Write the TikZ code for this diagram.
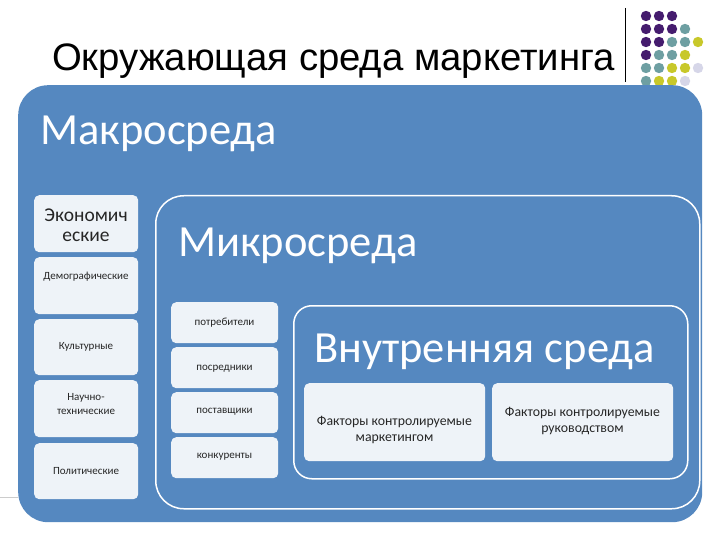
\documentclass[tikz,border=0pt]{standalone}
\usepackage{fontspec}
\setmainfont{Carlito}
\newfontfamily\titlefont{Liberation Sans}
\definecolor{mblue}{HTML}{5588C0}
\definecolor{boxfill}{HTML}{EEF3F8}
\definecolor{dpurple}{HTML}{451C6E}
\definecolor{dteal}{HTML}{6E9FA2}
\definecolor{dyellow}{HTML}{C8C82A}
\definecolor{dlav}{HTML}{D6D6E8}
\tikzset{
  outerbox/.style={draw=none, fill=mblue, rounded corners=30pt, anchor=north west, inner sep=0pt},
  framebox/.style={draw=white, line width=1.5pt, fill=none, anchor=north west, inner sep=0pt},
  itembox/.style={draw=none, fill=boxfill, rounded corners=5pt, anchor=north west, inner sep=0pt},
  bigtitle/.style={font=\fontsize{44.5}{46}\selectfont, text=white, anchor=base west, inner sep=0pt},
  itemtxt/.style={font=\fontsize{11}{13.5}\selectfont, text=black!85, align=center, inner sep=0pt},
  facttxt/.style={font=\fontsize{13.8}{15.5}\selectfont, text=black!85, align=center, inner sep=0pt},
}
\begin{document}
\begin{tikzpicture}[x=1pt,y=-1pt]
\useasboundingbox (0,0) rectangle (720,540);
\fill[white] (0,0) rectangle (720,540);
% title
\node[font=\titlefont\fontsize{38.3}{40}\selectfont, anchor=base west, inner sep=0pt] (title) at (52,71) {Окружающая среда маркетинга};
\draw[black, line width=1pt] (625,8) -- (625,82);
% dots
\foreach \c/\x/\y in {dpurple/646/16, dpurple/659/16, dpurple/672/16,
  dpurple/646/29, dpurple/659/29, dpurple/672/29, dteal/685/29,
  dpurple/646/42, dpurple/659/42, dteal/672/42, dteal/685/42, dyellow/698/42,
  dpurple/646/55, dteal/659/55, dteal/672/55, dyellow/685/55,
  dteal/646/68, dteal/659/68, dyellow/672/68, dyellow/685/68, dlav/698/68,
  dteal/646/81, dyellow/659/81, dyellow/672/81, dlav/685/81}
  \fill[\c] (\x,\y) circle (5.2);
% grey slide line
\draw[black!20, line width=1pt] (0,497) -- (18,497);
% macro
\node[outerbox, minimum width=684pt, minimum height=437pt] (macro) at (18,85) {};
\node[bigtitle] (macrolbl) at (40,145) {Макросреда};
% macro factors
\node[itembox, minimum width=104pt, minimum height=57pt] (m1) at (34,195) {};
\node[itembox, minimum width=104pt, minimum height=57pt] (m2) at (34,257) {};
\node[itembox, minimum width=104pt, minimum height=56pt] (m3) at (34,319) {};
\node[itembox, minimum width=104pt, minimum height=57pt] (m4) at (34,380) {};
\node[itembox, minimum width=104pt, minimum height=56pt] (m5) at (34,443) {};
\node[font=\fontsize{19.5}{20.5}\selectfont, text=black!85, align=center, inner sep=0pt] (t1) at (86,225) {Экономич\\еские};
\node[itemtxt] (t2) at (86,277) {Демографические};
\node[itemtxt] (t3) at (86,347) {Культурные};
\node[itemtxt] (t4) at (86,404) {Научно-\\технические};
\node[itemtxt] (t5) at (86,471) {Политические};
% micro
\node[framebox, rounded corners=28pt, minimum width=544pt, minimum height=313pt] (micro) at (155,195) {};
\node[bigtitle] (microlbl) at (178,256) {Микросреда};
\node[itembox, minimum width=107pt, minimum height=41pt] (u1) at (171,302) {};
\node[itembox, minimum width=107pt, minimum height=41pt] (u2) at (171,347) {};
\node[itembox, minimum width=107pt, minimum height=41pt] (u3) at (171,392) {};
\node[itembox, minimum width=107pt, minimum height=41pt] (u4) at (171,437) {};
\node[itemtxt] (s1) at (224.5,323) {потребители};
\node[itemtxt] (s2) at (224.5,369) {посредники};
\node[itemtxt] (s3) at (224.5,412) {поставщики};
\node[itemtxt] (s4) at (224.5,457) {конкуренты};
% internal
\node[framebox, rounded corners=18pt, minimum width=394pt, minimum height=173pt] (inner) at (293,305) {};
\node[bigtitle] (innerlbl) at (314,362) {Внутренняя среда};
\node[itembox, minimum width=181pt, minimum height=78pt] (f1) at (304,383) {};
\node[itembox, minimum width=181pt, minimum height=78pt] (f2) at (492,383) {};
\node[facttxt] (ft1) at (394.5,430) {Факторы контролируемые\\маркетингом};
\node[facttxt] (ft2) at (582.5,421) {Факторы контролируемые\\руководством};
\end{tikzpicture}
\end{document}
